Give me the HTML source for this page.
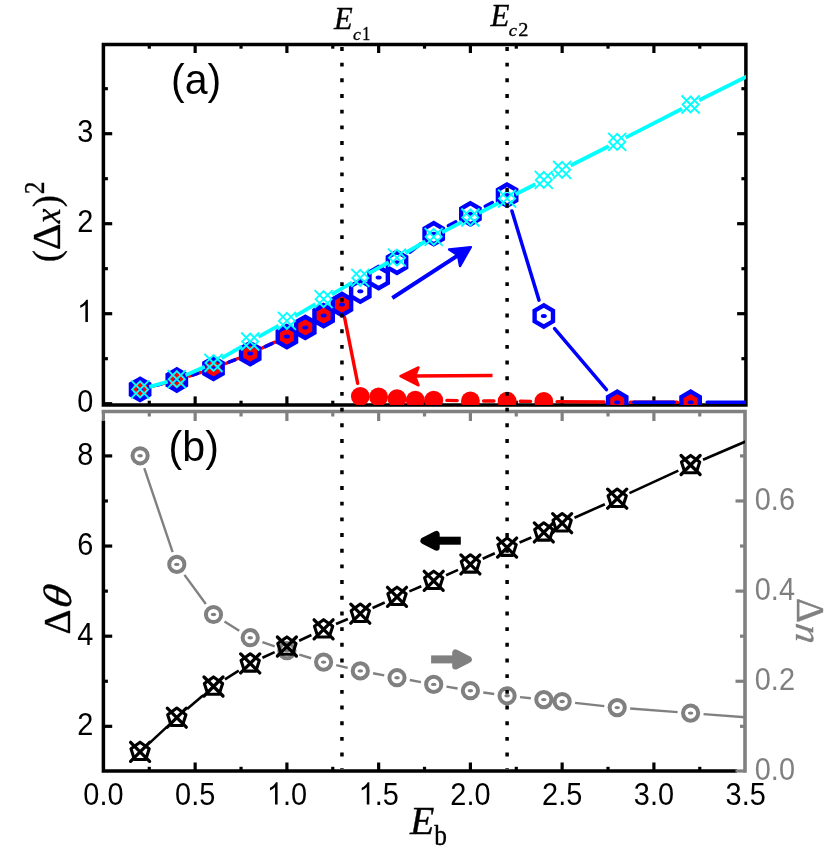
<!DOCTYPE html><html><head><meta charset="utf-8"><style>html,body{margin:0;padding:0;background:#fff}svg{display:block;will-change:transform}</style></head><body><svg width="830" height="855" viewBox="0 0 830 855">
<defs><clipPath id="ca"><rect x="103.4" y="44.5" width="642.5" height="360.4"/></clipPath><clipPath id="cb"><rect x="103.4" y="411.5" width="641.6" height="359.5"/></clipPath></defs>
<rect width="830" height="855" fill="#fff"/>
<g stroke="#000" stroke-width="3.5" fill="none">
<path d="M103.4,406.65L103.4,44.5L745.9,44.5L745.9,404.9L101.65,404.9"/>
</g>
<g stroke="#000" stroke-width="3.2">
<line x1="149.28" y1="44.5" x2="149.28" y2="48.7"/>
<line x1="149.28" y1="404.9" x2="149.28" y2="400.7"/>
<line x1="195.15" y1="44.5" x2="195.15" y2="53.0"/>
<line x1="195.15" y1="404.9" x2="195.15" y2="396.4"/>
<line x1="241.03" y1="44.5" x2="241.03" y2="48.7"/>
<line x1="241.03" y1="404.9" x2="241.03" y2="400.7"/>
<line x1="286.90" y1="44.5" x2="286.90" y2="53.0"/>
<line x1="286.90" y1="404.9" x2="286.90" y2="396.4"/>
<line x1="332.77" y1="44.5" x2="332.77" y2="48.7"/>
<line x1="332.77" y1="404.9" x2="332.77" y2="400.7"/>
<line x1="378.65" y1="44.5" x2="378.65" y2="53.0"/>
<line x1="378.65" y1="404.9" x2="378.65" y2="396.4"/>
<line x1="424.52" y1="44.5" x2="424.52" y2="48.7"/>
<line x1="424.52" y1="404.9" x2="424.52" y2="400.7"/>
<line x1="470.40" y1="44.5" x2="470.40" y2="53.0"/>
<line x1="470.40" y1="404.9" x2="470.40" y2="396.4"/>
<line x1="516.27" y1="44.5" x2="516.27" y2="48.7"/>
<line x1="516.27" y1="404.9" x2="516.27" y2="400.7"/>
<line x1="562.15" y1="44.5" x2="562.15" y2="53.0"/>
<line x1="562.15" y1="404.9" x2="562.15" y2="396.4"/>
<line x1="608.02" y1="44.5" x2="608.02" y2="48.7"/>
<line x1="608.02" y1="404.9" x2="608.02" y2="400.7"/>
<line x1="653.90" y1="44.5" x2="653.90" y2="53.0"/>
<line x1="653.90" y1="404.9" x2="653.90" y2="396.4"/>
<line x1="699.77" y1="44.5" x2="699.77" y2="48.7"/>
<line x1="699.77" y1="404.9" x2="699.77" y2="400.7"/>
<line x1="103.4" y1="403.70" x2="112.2" y2="403.70"/>
<line x1="745.9" y1="403.70" x2="737.1" y2="403.70"/>
<line x1="103.4" y1="358.70" x2="107.9" y2="358.70"/>
<line x1="745.9" y1="358.70" x2="741.4" y2="358.70"/>
<line x1="103.4" y1="313.70" x2="112.2" y2="313.70"/>
<line x1="745.9" y1="313.70" x2="737.1" y2="313.70"/>
<line x1="103.4" y1="268.70" x2="107.9" y2="268.70"/>
<line x1="745.9" y1="268.70" x2="741.4" y2="268.70"/>
<line x1="103.4" y1="223.70" x2="112.2" y2="223.70"/>
<line x1="745.9" y1="223.70" x2="737.1" y2="223.70"/>
<line x1="103.4" y1="178.70" x2="107.9" y2="178.70"/>
<line x1="745.9" y1="178.70" x2="741.4" y2="178.70"/>
<line x1="103.4" y1="133.70" x2="112.2" y2="133.70"/>
<line x1="745.9" y1="133.70" x2="737.1" y2="133.70"/>
<line x1="103.4" y1="88.70" x2="107.9" y2="88.70"/>
<line x1="745.9" y1="88.70" x2="741.4" y2="88.70"/>
</g>
<g stroke="#000" stroke-width="3.5" fill="none"><path d="M103.4,420.5L103.4,771.0L737.0,771.0" stroke-linejoin="miter"/></g>
<g stroke="#000" stroke-width="3.2">
<line x1="149.28" y1="771.0" x2="149.28" y2="766.8"/>
<line x1="195.15" y1="771.0" x2="195.15" y2="762.5"/>
<line x1="241.03" y1="771.0" x2="241.03" y2="766.8"/>
<line x1="286.90" y1="771.0" x2="286.90" y2="762.5"/>
<line x1="332.77" y1="771.0" x2="332.77" y2="766.8"/>
<line x1="378.65" y1="771.0" x2="378.65" y2="762.5"/>
<line x1="424.52" y1="771.0" x2="424.52" y2="766.8"/>
<line x1="470.40" y1="771.0" x2="470.40" y2="762.5"/>
<line x1="516.27" y1="771.0" x2="516.27" y2="766.8"/>
<line x1="562.15" y1="771.0" x2="562.15" y2="762.5"/>
<line x1="608.02" y1="771.0" x2="608.02" y2="766.8"/>
<line x1="653.90" y1="771.0" x2="653.90" y2="762.5"/>
<line x1="699.77" y1="771.0" x2="699.77" y2="766.8"/>
<line x1="103.4" y1="726.33" x2="112.2" y2="726.33"/>
<line x1="103.4" y1="681.26" x2="107.9" y2="681.26"/>
<line x1="103.4" y1="636.19" x2="112.2" y2="636.19"/>
<line x1="103.4" y1="591.12" x2="107.9" y2="591.12"/>
<line x1="103.4" y1="546.05" x2="112.2" y2="546.05"/>
<line x1="103.4" y1="500.98" x2="107.9" y2="500.98"/>
<line x1="103.4" y1="455.91" x2="112.2" y2="455.91"/>
</g>
<g stroke="#808080" stroke-width="3.6" fill="none"><path d="M101.60000000000001,411.5L745.0,411.5L745.0,772.8"/></g>
<g stroke="#808080" stroke-width="3.2">
<line x1="103.40" y1="411.5" x2="103.40" y2="421.0"/>
<line x1="149.28" y1="411.5" x2="149.28" y2="416.5"/>
<line x1="195.15" y1="411.5" x2="195.15" y2="421.0"/>
<line x1="241.03" y1="411.5" x2="241.03" y2="416.5"/>
<line x1="286.90" y1="411.5" x2="286.90" y2="421.0"/>
<line x1="332.77" y1="411.5" x2="332.77" y2="416.5"/>
<line x1="378.65" y1="411.5" x2="378.65" y2="421.0"/>
<line x1="424.52" y1="411.5" x2="424.52" y2="416.5"/>
<line x1="470.40" y1="411.5" x2="470.40" y2="421.0"/>
<line x1="516.27" y1="411.5" x2="516.27" y2="416.5"/>
<line x1="562.15" y1="411.5" x2="562.15" y2="421.0"/>
<line x1="608.02" y1="411.5" x2="608.02" y2="416.5"/>
<line x1="653.90" y1="411.5" x2="653.90" y2="421.0"/>
<line x1="699.77" y1="411.5" x2="699.77" y2="416.5"/>
<line x1="745.0" y1="771.00" x2="735.5" y2="771.00"/>
<line x1="745.0" y1="726.33" x2="740.0" y2="726.33"/>
<line x1="745.0" y1="681.26" x2="735.5" y2="681.26"/>
<line x1="745.0" y1="636.19" x2="740.0" y2="636.19"/>
<line x1="745.0" y1="591.12" x2="735.5" y2="591.12"/>
<line x1="745.0" y1="546.05" x2="740.0" y2="546.05"/>
<line x1="745.0" y1="500.98" x2="735.5" y2="500.98"/>
<line x1="745.0" y1="455.91" x2="740.0" y2="455.91"/>
</g>
<g clip-path="url(#ca)">
<g stroke="#ff0000" stroke-width="3.4" fill="none" stroke-linecap="round"><line x1="152.89" y1="386.12" x2="164.01" y2="383.28"/><line x1="189.39" y1="376.02" x2="200.91" y2="372.38"/><line x1="225.74" y1="363.46" x2="237.96" y2="358.54"/><line x1="262.18" y1="348.05" x2="274.92" y2="342.15"/><line x1="344.54" y1="317.44" x2="357.71" y2="383.36"/><line x1="446.90" y1="400.42" x2="457.20" y2="400.58"/><line x1="483.60" y1="400.94" x2="493.90" y2="401.06"/><line x1="520.30" y1="401.31" x2="530.60" y2="401.39"/><line x1="557.00" y1="401.63" x2="604.00" y2="402.07"/><line x1="630.40" y1="402.20" x2="677.40" y2="402.20"/></g>
<circle cx="140.10" cy="389.40" r="9.4" fill="#ff0000"/>
<circle cx="176.80" cy="380.00" r="9.4" fill="#ff0000"/>
<circle cx="213.50" cy="368.40" r="9.4" fill="#ff0000"/>
<circle cx="250.20" cy="353.60" r="9.4" fill="#ff0000"/>
<circle cx="286.90" cy="336.60" r="9.4" fill="#ff0000"/>
<circle cx="305.25" cy="327.40" r="9.4" fill="#ff0000"/>
<circle cx="323.60" cy="315.60" r="9.4" fill="#ff0000"/>
<circle cx="341.95" cy="304.50" r="9.4" fill="#ff0000"/>
<circle cx="360.30" cy="396.30" r="9.4" fill="#ff0000"/>
<circle cx="378.65" cy="396.90" r="9.4" fill="#ff0000"/>
<circle cx="397.00" cy="398.70" r="9.4" fill="#ff0000"/>
<circle cx="415.35" cy="400.10" r="9.4" fill="#ff0000"/>
<circle cx="433.70" cy="400.20" r="9.4" fill="#ff0000"/>
<circle cx="470.40" cy="400.80" r="9.4" fill="#ff0000"/>
<circle cx="507.10" cy="401.20" r="9.4" fill="#ff0000"/>
<circle cx="543.80" cy="401.50" r="9.4" fill="#ff0000"/>
<circle cx="617.20" cy="402.20" r="9.4" fill="#ff0000"/>
<circle cx="690.60" cy="402.20" r="9.4" fill="#ff0000"/>
<g stroke="#0000ff" stroke-width="3.5" fill="none" stroke-linecap="round"><line x1="156.18" y1="385.28" x2="160.72" y2="384.12"/><line x1="192.63" y1="375.00" x2="197.67" y2="373.40"/><line x1="228.90" y1="362.19" x2="234.80" y2="359.81"/><line x1="265.26" y1="346.62" x2="271.84" y2="343.58"/><line x1="410.09" y1="252.10" x2="420.61" y2="243.90"/><line x1="448.29" y1="225.79" x2="455.81" y2="221.71"/><line x1="485.19" y1="206.26" x2="492.31" y2="202.64"/><line x1="511.92" y1="210.98" x2="538.98" y2="300.12"/><line x1="554.56" y1="328.64" x2="606.44" y2="389.56"/><line x1="633.80" y1="402.20" x2="674.00" y2="402.20"/><line x1="707.20" y1="402.25" x2="754.82" y2="402.40"/></g>
<polygon points="140.10,378.80 130.92,384.10 130.92,394.70 140.10,400.00 149.28,394.70 149.28,384.10" fill="none" stroke="#0000ff" stroke-width="4.4" stroke-linejoin="miter"/>
<ellipse cx="140.10" cy="389.40" rx="3" ry="2" fill="#0000ff"/>
<polygon points="176.80,369.40 167.62,374.70 167.62,385.30 176.80,390.60 185.98,385.30 185.98,374.70" fill="none" stroke="#0000ff" stroke-width="4.4" stroke-linejoin="miter"/>
<ellipse cx="176.80" cy="380.00" rx="3" ry="2" fill="#0000ff"/>
<polygon points="213.50,357.80 204.32,363.10 204.32,373.70 213.50,379.00 222.68,373.70 222.68,363.10" fill="none" stroke="#0000ff" stroke-width="4.4" stroke-linejoin="miter"/>
<ellipse cx="213.50" cy="368.40" rx="3" ry="2" fill="#0000ff"/>
<polygon points="250.20,343.00 241.02,348.30 241.02,358.90 250.20,364.20 259.38,358.90 259.38,348.30" fill="none" stroke="#0000ff" stroke-width="4.4" stroke-linejoin="miter"/>
<ellipse cx="250.20" cy="353.60" rx="3" ry="2" fill="#0000ff"/>
<polygon points="286.90,326.00 277.72,331.30 277.72,341.90 286.90,347.20 296.08,341.90 296.08,331.30" fill="none" stroke="#0000ff" stroke-width="4.4" stroke-linejoin="miter"/>
<ellipse cx="286.90" cy="336.60" rx="3" ry="2" fill="#0000ff"/>
<polygon points="305.25,316.80 296.07,322.10 296.07,332.70 305.25,338.00 314.43,332.70 314.43,322.10" fill="none" stroke="#0000ff" stroke-width="4.4" stroke-linejoin="miter"/>
<ellipse cx="305.25" cy="327.40" rx="3" ry="2" fill="#0000ff"/>
<polygon points="323.60,305.00 314.42,310.30 314.42,320.90 323.60,326.20 332.78,320.90 332.78,310.30" fill="none" stroke="#0000ff" stroke-width="4.4" stroke-linejoin="miter"/>
<ellipse cx="323.60" cy="315.60" rx="3" ry="2" fill="#0000ff"/>
<polygon points="341.95,293.90 332.77,299.20 332.77,309.80 341.95,315.10 351.13,309.80 351.13,299.20" fill="none" stroke="#0000ff" stroke-width="4.4" stroke-linejoin="miter"/>
<ellipse cx="341.95" cy="304.50" rx="3" ry="2" fill="#0000ff"/>
<polygon points="360.30,280.60 351.12,285.90 351.12,296.50 360.30,301.80 369.48,296.50 369.48,285.90" fill="none" stroke="#0000ff" stroke-width="4.4" stroke-linejoin="miter"/>
<ellipse cx="360.30" cy="291.20" rx="3" ry="2" fill="#0000ff"/>
<polygon points="378.65,267.00 369.47,272.30 369.47,282.90 378.65,288.20 387.83,282.90 387.83,272.30" fill="none" stroke="#0000ff" stroke-width="4.4" stroke-linejoin="miter"/>
<ellipse cx="378.65" cy="277.60" rx="3" ry="2" fill="#0000ff"/>
<polygon points="397.00,251.70 387.82,257.00 387.82,267.60 397.00,272.90 406.18,267.60 406.18,257.00" fill="none" stroke="#0000ff" stroke-width="4.4" stroke-linejoin="miter"/>
<ellipse cx="397.00" cy="262.30" rx="3" ry="2" fill="#0000ff"/>
<polygon points="433.70,223.10 424.52,228.40 424.52,239.00 433.70,244.30 442.88,239.00 442.88,228.40" fill="none" stroke="#0000ff" stroke-width="4.4" stroke-linejoin="miter"/>
<ellipse cx="433.70" cy="233.70" rx="3" ry="2" fill="#0000ff"/>
<polygon points="470.40,203.20 461.22,208.50 461.22,219.10 470.40,224.40 479.58,219.10 479.58,208.50" fill="none" stroke="#0000ff" stroke-width="4.4" stroke-linejoin="miter"/>
<ellipse cx="470.40" cy="213.80" rx="3" ry="2" fill="#0000ff"/>
<polygon points="507.10,184.50 497.92,189.80 497.92,200.40 507.10,205.70 516.28,200.40 516.28,189.80" fill="none" stroke="#0000ff" stroke-width="4.4" stroke-linejoin="miter"/>
<ellipse cx="507.10" cy="195.10" rx="3" ry="2" fill="#0000ff"/>
<polygon points="543.80,305.40 534.62,310.70 534.62,321.30 543.80,326.60 552.98,321.30 552.98,310.70" fill="none" stroke="#0000ff" stroke-width="4.4" stroke-linejoin="miter"/>
<ellipse cx="543.80" cy="316.00" rx="3" ry="2" fill="#0000ff"/>
<polygon points="617.20,391.60 608.02,396.90 608.02,407.50 617.20,412.80 626.38,407.50 626.38,396.90" fill="none" stroke="#0000ff" stroke-width="4.4" stroke-linejoin="miter"/>
<ellipse cx="617.20" cy="402.20" rx="3" ry="2" fill="#0000ff"/>
<polygon points="690.60,391.60 681.42,396.90 681.42,407.50 690.60,412.80 699.78,407.50 699.78,396.90" fill="none" stroke="#0000ff" stroke-width="4.4" stroke-linejoin="miter"/>
<ellipse cx="690.60" cy="402.20" rx="3" ry="2" fill="#0000ff"/>
<g stroke="#00ffff" stroke-width="3.8" fill="none" stroke-linecap="butt"><line x1="149.25" y1="386.86" x2="167.65" y2="381.74"/><line x1="185.49" y1="375.36" x2="204.81" y2="366.84"/><line x1="221.70" y1="358.20" x2="242.00" y2="346.30"/><line x1="258.48" y1="336.85" x2="278.62" y2="325.55"/><line x1="295.08" y1="316.06" x2="315.42" y2="304.04"/><line x1="331.82" y1="294.43" x2="352.08" y2="282.67"/><line x1="368.62" y1="273.32" x2="388.68" y2="262.28"/><line x1="405.26" y1="253.00" x2="425.44" y2="241.50"/><line x1="442.11" y1="232.38" x2="461.99" y2="221.92"/><line x1="478.85" y1="213.15" x2="498.65" y2="202.95"/><line x1="515.56" y1="194.29" x2="535.34" y2="184.21"/><line x1="552.12" y1="175.32" x2="553.83" y2="174.38"/><line x1="570.62" y1="165.51" x2="608.73" y2="146.19"/><line x1="625.66" y1="137.59" x2="682.14" y2="108.81"/><line x1="699.10" y1="100.26" x2="782.35" y2="58.80"/></g>
<path d="M131.10,380.40L149.10,398.40M131.10,398.40L149.10,380.40M140.10,381.40L148.10,389.40L140.10,397.40L132.10,389.40Z" fill="none" stroke="#00ffff" stroke-width="1.9"/>
<path d="M167.80,370.20L185.80,388.20M167.80,388.20L185.80,370.20M176.80,371.20L184.80,379.20L176.80,387.20L168.80,379.20Z" fill="none" stroke="#00ffff" stroke-width="1.9"/>
<path d="M204.50,354.00L222.50,372.00M204.50,372.00L222.50,354.00M213.50,355.00L221.50,363.00L213.50,371.00L205.50,363.00Z" fill="none" stroke="#00ffff" stroke-width="1.9"/>
<path d="M241.20,332.50L259.20,350.50M241.20,350.50L259.20,332.50M250.20,333.50L258.20,341.50L250.20,349.50L242.20,341.50Z" fill="none" stroke="#00ffff" stroke-width="1.9"/>
<path d="M277.90,311.90L295.90,329.90M277.90,329.90L295.90,311.90M286.90,312.90L294.90,320.90L286.90,328.90L278.90,320.90Z" fill="none" stroke="#00ffff" stroke-width="1.9"/>
<path d="M314.60,290.20L332.60,308.20M314.60,308.20L332.60,290.20M323.60,291.20L331.60,299.20L323.60,307.20L315.60,299.20Z" fill="none" stroke="#00ffff" stroke-width="1.9"/>
<path d="M351.30,268.90L369.30,286.90M351.30,286.90L369.30,268.90M360.30,269.90L368.30,277.90L360.30,285.90L352.30,277.90Z" fill="none" stroke="#00ffff" stroke-width="1.9"/>
<path d="M388.00,248.70L406.00,266.70M388.00,266.70L406.00,248.70M397.00,249.70L405.00,257.70L397.00,265.70L389.00,257.70Z" fill="none" stroke="#00ffff" stroke-width="1.9"/>
<path d="M424.70,227.80L442.70,245.80M424.70,245.80L442.70,227.80M433.70,228.80L441.70,236.80L433.70,244.80L425.70,236.80Z" fill="none" stroke="#00ffff" stroke-width="1.9"/>
<path d="M461.40,208.50L479.40,226.50M461.40,226.50L479.40,208.50M470.40,209.50L478.40,217.50L470.40,225.50L462.40,217.50Z" fill="none" stroke="#00ffff" stroke-width="1.9"/>
<path d="M498.10,189.60L516.10,207.60M498.10,207.60L516.10,189.60M507.10,190.60L515.10,198.60L507.10,206.60L499.10,198.60Z" fill="none" stroke="#00ffff" stroke-width="1.9"/>
<path d="M534.80,170.90L552.80,188.90M534.80,188.90L552.80,170.90M543.80,171.90L551.80,179.90L543.80,187.90L535.80,179.90Z" fill="none" stroke="#00ffff" stroke-width="1.9"/>
<path d="M553.15,160.80L571.15,178.80M553.15,178.80L571.15,160.80M562.15,161.80L570.15,169.80L562.15,177.80L554.15,169.80Z" fill="none" stroke="#00ffff" stroke-width="1.9"/>
<path d="M608.20,132.90L626.20,150.90M608.20,150.90L626.20,132.90M617.20,133.90L625.20,141.90L617.20,149.90L609.20,141.90Z" fill="none" stroke="#00ffff" stroke-width="1.9"/>
<path d="M681.60,95.50L699.60,113.50M681.60,113.50L699.60,95.50M690.60,96.50L698.60,104.50L690.60,112.50L682.60,104.50Z" fill="none" stroke="#00ffff" stroke-width="1.9"/>
</g>
<line x1="392.3" y1="298" x2="460" y2="254" stroke="#0000ff" stroke-width="3.9"/>
<path d="M470.8,247.1L449.1,249.5L458,255.3L460,266.1Z" fill="#0000ff" stroke="#0000ff" stroke-width="2.4" stroke-linejoin="round"/>
<line x1="492.5" y1="375.6" x2="412" y2="376.1" stroke="#ff0000" stroke-width="3.5"/>
<path d="M400.5,376.1L418.5,367.5L415,376.1L418.5,385.3Z" fill="#ff0000" stroke="#ff0000" stroke-width="2.5" stroke-linejoin="round"/>
<g clip-path="url(#cb)">
<g stroke="#808080" stroke-width="2.4" fill="none" stroke-linecap="butt"><line x1="144.26" y1="468.12" x2="172.64" y2="552.08"/><line x1="184.48" y1="574.89" x2="205.82" y2="604.01"/><line x1="224.49" y1="621.45" x2="239.21" y2="630.75"/><line x1="262.45" y1="642.04" x2="274.65" y2="646.36"/><line x1="299.31" y1="654.56" x2="311.19" y2="658.24"/><line x1="336.24" y1="665.13" x2="347.66" y2="667.87"/><line x1="373.08" y1="673.27" x2="384.22" y2="675.33"/><line x1="409.79" y1="680.03" x2="420.91" y2="682.07"/><line x1="446.51" y1="686.60" x2="457.59" y2="688.50"/><line x1="483.28" y1="692.49" x2="494.22" y2="694.01"/><line x1="520.03" y1="697.14" x2="530.87" y2="698.26"/><line x1="575.07" y1="702.93" x2="604.28" y2="706.17"/><line x1="630.16" y1="708.57" x2="677.64" y2="712.13"/><line x1="703.56" y1="714.09" x2="782.35" y2="720.10"/></g>
<circle cx="140.10" cy="455.80" r="7.6" fill="none" stroke="#808080" stroke-width="4"/>
<ellipse cx="140.10" cy="455.80" rx="2.8" ry="1.7" fill="#808080"/>
<circle cx="176.80" cy="564.40" r="7.6" fill="none" stroke="#808080" stroke-width="4"/>
<ellipse cx="176.80" cy="564.40" rx="2.8" ry="1.7" fill="#808080"/>
<circle cx="213.50" cy="614.50" r="7.6" fill="none" stroke="#808080" stroke-width="4"/>
<ellipse cx="213.50" cy="614.50" rx="2.8" ry="1.7" fill="#808080"/>
<circle cx="250.20" cy="637.70" r="7.6" fill="none" stroke="#808080" stroke-width="4"/>
<ellipse cx="250.20" cy="637.70" rx="2.8" ry="1.7" fill="#808080"/>
<circle cx="286.90" cy="650.70" r="7.6" fill="none" stroke="#808080" stroke-width="4"/>
<ellipse cx="286.90" cy="650.70" rx="2.8" ry="1.7" fill="#808080"/>
<circle cx="323.60" cy="662.10" r="7.6" fill="none" stroke="#808080" stroke-width="4"/>
<ellipse cx="323.60" cy="662.10" rx="2.8" ry="1.7" fill="#808080"/>
<circle cx="360.30" cy="670.90" r="7.6" fill="none" stroke="#808080" stroke-width="4"/>
<ellipse cx="360.30" cy="670.90" rx="2.8" ry="1.7" fill="#808080"/>
<circle cx="397.00" cy="677.70" r="7.6" fill="none" stroke="#808080" stroke-width="4"/>
<ellipse cx="397.00" cy="677.70" rx="2.8" ry="1.7" fill="#808080"/>
<circle cx="433.70" cy="684.40" r="7.6" fill="none" stroke="#808080" stroke-width="4"/>
<ellipse cx="433.70" cy="684.40" rx="2.8" ry="1.7" fill="#808080"/>
<circle cx="470.40" cy="690.70" r="7.6" fill="none" stroke="#808080" stroke-width="4"/>
<ellipse cx="470.40" cy="690.70" rx="2.8" ry="1.7" fill="#808080"/>
<circle cx="507.10" cy="695.80" r="7.6" fill="none" stroke="#808080" stroke-width="4"/>
<ellipse cx="507.10" cy="695.80" rx="2.8" ry="1.7" fill="#808080"/>
<circle cx="543.80" cy="699.60" r="7.6" fill="none" stroke="#808080" stroke-width="4"/>
<ellipse cx="543.80" cy="699.60" rx="2.8" ry="1.7" fill="#808080"/>
<circle cx="562.15" cy="701.50" r="7.6" fill="none" stroke="#808080" stroke-width="4"/>
<ellipse cx="562.15" cy="701.50" rx="2.8" ry="1.7" fill="#808080"/>
<circle cx="617.20" cy="707.60" r="7.6" fill="none" stroke="#808080" stroke-width="4"/>
<ellipse cx="617.20" cy="707.60" rx="2.8" ry="1.7" fill="#808080"/>
<circle cx="690.60" cy="713.10" r="7.6" fill="none" stroke="#808080" stroke-width="4"/>
<ellipse cx="690.60" cy="713.10" rx="2.8" ry="1.7" fill="#808080"/>
<g stroke="#000" stroke-width="2.6" fill="none" stroke-linecap="butt"><line x1="149.99" y1="742.61" x2="166.91" y2="726.89"/><line x1="187.09" y1="708.96" x2="203.21" y2="695.24"/><line x1="224.93" y1="679.31" x2="238.77" y2="670.59"/><line x1="262.46" y1="657.75" x2="274.64" y2="652.15"/><line x1="299.12" y1="640.77" x2="311.38" y2="635.03"/><line x1="336.02" y1="624.02" x2="347.88" y2="618.98"/><line x1="372.56" y1="608.05" x2="384.74" y2="602.45"/><line x1="409.38" y1="591.40" x2="421.32" y2="586.20"/><line x1="446.03" y1="575.29" x2="458.07" y2="569.91"/><line x1="482.68" y1="558.78" x2="494.82" y2="553.22"/><line x1="519.57" y1="542.43" x2="531.33" y2="537.57"/><line x1="574.48" y1="517.71" x2="604.87" y2="504.19"/><line x1="629.47" y1="493.07" x2="678.33" y2="470.63"/><line x1="703.01" y1="459.70" x2="782.35" y2="425.80"/></g>
<polygon points="140.10,742.20 130.97,748.83 134.46,759.57 145.74,759.57 149.23,748.83" fill="none" stroke="#000" stroke-width="3.1" stroke-linejoin="round"/>
<path d="M130.60,742.30L149.60,761.30M130.60,761.30L149.60,742.30" fill="none" stroke="#000" stroke-width="3.3" stroke-linecap="round"/>
<polygon points="176.80,708.10 167.67,714.73 171.16,725.47 182.44,725.47 185.93,714.73" fill="none" stroke="#000" stroke-width="3.1" stroke-linejoin="round"/>
<path d="M167.30,708.20L186.30,727.20M167.30,727.20L186.30,708.20" fill="none" stroke="#000" stroke-width="3.3" stroke-linecap="round"/>
<polygon points="213.50,676.90 204.37,683.53 207.86,694.27 219.14,694.27 222.63,683.53" fill="none" stroke="#000" stroke-width="3.1" stroke-linejoin="round"/>
<path d="M204.00,677.00L223.00,696.00M204.00,696.00L223.00,677.00" fill="none" stroke="#000" stroke-width="3.3" stroke-linecap="round"/>
<polygon points="250.20,653.80 241.07,660.43 244.56,671.17 255.84,671.17 259.33,660.43" fill="none" stroke="#000" stroke-width="3.1" stroke-linejoin="round"/>
<path d="M240.70,653.90L259.70,672.90M240.70,672.90L259.70,653.90" fill="none" stroke="#000" stroke-width="3.3" stroke-linecap="round"/>
<polygon points="286.90,636.90 277.77,643.53 281.26,654.27 292.54,654.27 296.03,643.53" fill="none" stroke="#000" stroke-width="3.1" stroke-linejoin="round"/>
<path d="M277.40,637.00L296.40,656.00M277.40,656.00L296.40,637.00" fill="none" stroke="#000" stroke-width="3.3" stroke-linecap="round"/>
<polygon points="323.60,619.70 314.47,626.33 317.96,637.07 329.24,637.07 332.73,626.33" fill="none" stroke="#000" stroke-width="3.1" stroke-linejoin="round"/>
<path d="M314.10,619.80L333.10,638.80M314.10,638.80L333.10,619.80" fill="none" stroke="#000" stroke-width="3.3" stroke-linecap="round"/>
<polygon points="360.30,604.10 351.17,610.73 354.66,621.47 365.94,621.47 369.43,610.73" fill="none" stroke="#000" stroke-width="3.1" stroke-linejoin="round"/>
<path d="M350.80,604.20L369.80,623.20M350.80,623.20L369.80,604.20" fill="none" stroke="#000" stroke-width="3.3" stroke-linecap="round"/>
<polygon points="397.00,587.20 387.87,593.83 391.36,604.57 402.64,604.57 406.13,593.83" fill="none" stroke="#000" stroke-width="3.1" stroke-linejoin="round"/>
<path d="M387.50,587.30L406.50,606.30M387.50,606.30L406.50,587.30" fill="none" stroke="#000" stroke-width="3.3" stroke-linecap="round"/>
<polygon points="433.70,571.20 424.57,577.83 428.06,588.57 439.34,588.57 442.83,577.83" fill="none" stroke="#000" stroke-width="3.1" stroke-linejoin="round"/>
<path d="M424.20,571.30L443.20,590.30M424.20,590.30L443.20,571.30" fill="none" stroke="#000" stroke-width="3.3" stroke-linecap="round"/>
<polygon points="470.40,554.80 461.27,561.43 464.76,572.17 476.04,572.17 479.53,561.43" fill="none" stroke="#000" stroke-width="3.1" stroke-linejoin="round"/>
<path d="M460.90,554.90L479.90,573.90M460.90,573.90L479.90,554.90" fill="none" stroke="#000" stroke-width="3.3" stroke-linecap="round"/>
<polygon points="507.10,538.00 497.97,544.63 501.46,555.37 512.74,555.37 516.23,544.63" fill="none" stroke="#000" stroke-width="3.1" stroke-linejoin="round"/>
<path d="M497.60,538.10L516.60,557.10M497.60,557.10L516.60,538.10" fill="none" stroke="#000" stroke-width="3.3" stroke-linecap="round"/>
<polygon points="543.80,522.80 534.67,529.43 538.16,540.17 549.44,540.17 552.93,529.43" fill="none" stroke="#000" stroke-width="3.1" stroke-linejoin="round"/>
<path d="M534.30,522.90L553.30,541.90M534.30,541.90L553.30,522.90" fill="none" stroke="#000" stroke-width="3.3" stroke-linecap="round"/>
<polygon points="562.15,513.60 553.02,520.23 556.51,530.97 567.79,530.97 571.28,520.23" fill="none" stroke="#000" stroke-width="3.1" stroke-linejoin="round"/>
<path d="M552.65,513.70L571.65,532.70M552.65,532.70L571.65,513.70" fill="none" stroke="#000" stroke-width="3.3" stroke-linecap="round"/>
<polygon points="617.20,489.10 608.07,495.73 611.56,506.47 622.84,506.47 626.33,495.73" fill="none" stroke="#000" stroke-width="3.1" stroke-linejoin="round"/>
<path d="M607.70,489.20L626.70,508.20M607.70,508.20L626.70,489.20" fill="none" stroke="#000" stroke-width="3.3" stroke-linecap="round"/>
<polygon points="690.60,455.40 681.47,462.03 684.96,472.77 696.24,472.77 699.73,462.03" fill="none" stroke="#000" stroke-width="3.1" stroke-linejoin="round"/>
<path d="M681.10,455.50L700.10,474.50M681.10,474.50L700.10,455.50" fill="none" stroke="#000" stroke-width="3.3" stroke-linecap="round"/>
</g>
<rect x="439" y="536.7" width="21.8" height="8" fill="#000"/>
<path d="M423.7,540.8L436.4,534.2L436.4,547.4Z" fill="#000" stroke="#000" stroke-width="6.6" stroke-linejoin="round"/>
<rect x="431.1" y="655.4" width="22" height="8" fill="#808080"/>
<path d="M468.6,659.5L455.5,652.8L455.5,666.2Z" fill="#808080" stroke="#808080" stroke-width="6.6" stroke-linejoin="round"/>
<line x1="341.95" y1="47" x2="341.95" y2="769" stroke="#000" stroke-width="3.5" stroke-dasharray="3.9 11.78"/>
<line x1="507.10" y1="47" x2="507.10" y2="769" stroke="#000" stroke-width="3.5" stroke-dasharray="3.9 11.78"/>
<g font-family="Liberation Sans, sans-serif" font-size="28.9">
<text transform="translate(93.20,412.00) scale(1,1.075)" text-anchor="end" fill="#000">0</text>
<path d="M763,0H583V-1147Q518,-1085 412.5,-1023Q307,-961 223,-930V-1104Q374,-1175 487,-1276Q600,-1377 647,-1472H763Z" fill="#000" transform="translate(77.13,322.00) scale(0.01411,0.01517)"/>
<text transform="translate(93.20,232.00) scale(1,1.075)" text-anchor="end" fill="#000">2</text>
<text transform="translate(93.20,142.00) scale(1,1.075)" text-anchor="end" fill="#000">3</text>
<text transform="translate(93.20,734.93) scale(1,1.075)" text-anchor="end" fill="#000">2</text>
<text transform="translate(93.20,644.79) scale(1,1.075)" text-anchor="end" fill="#000">4</text>
<text transform="translate(93.20,554.65) scale(1,1.075)" text-anchor="end" fill="#000">6</text>
<text transform="translate(93.20,464.51) scale(1,1.075)" text-anchor="end" fill="#000">8</text>
<text transform="translate(103.40,804.50) scale(1,1.075)" text-anchor="middle" fill="#000">0.0</text>
<text transform="translate(195.15,804.50) scale(1,1.075)" text-anchor="middle" fill="#000">0.5</text>
<path d="M763,0H583V-1147Q518,-1085 412.5,-1023Q307,-961 223,-930V-1104Q374,-1175 487,-1276Q600,-1377 647,-1472H763Z" fill="#000" transform="translate(266.81,804.50) scale(0.01411,0.01517)"/><text transform="translate(282.88,804.50) scale(1,1.075)" text-anchor="start" fill="#000">.0</text>
<path d="M763,0H583V-1147Q518,-1085 412.5,-1023Q307,-961 223,-930V-1104Q374,-1175 487,-1276Q600,-1377 647,-1472H763Z" fill="#000" transform="translate(358.56,804.50) scale(0.01411,0.01517)"/><text transform="translate(374.63,804.50) scale(1,1.075)" text-anchor="start" fill="#000">.5</text>
<text transform="translate(470.40,804.50) scale(1,1.075)" text-anchor="middle" fill="#000">2.0</text>
<text transform="translate(562.15,804.50) scale(1,1.075)" text-anchor="middle" fill="#000">2.5</text>
<text transform="translate(653.90,804.50) scale(1,1.075)" text-anchor="middle" fill="#000">3.0</text>
<text transform="translate(745.65,804.50) scale(1,1.075)" text-anchor="middle" fill="#000">3.5</text>
<text transform="translate(754.80,780.20) scale(1,1.075)" text-anchor="start" fill="#808080">0.0</text>
<text transform="translate(754.80,690.06) scale(1,1.075)" text-anchor="start" fill="#808080">0.2</text>
<text transform="translate(754.80,599.92) scale(1,1.075)" text-anchor="start" fill="#808080">0.4</text>
<text transform="translate(754.80,509.78) scale(1,1.075)" text-anchor="start" fill="#808080">0.6</text>
</g>
<text font-family="Liberation Sans, sans-serif" font-size="41.1" transform="translate(171,93.6) scale(1,1.03)">(a)</text>
<text font-family="Liberation Sans, sans-serif" font-size="41.1" transform="translate(168.6,461.3) scale(1,1.03)">(b)</text>
<text font-family="Liberation Serif, serif" font-size="32" font-style="italic" fill="#000" stroke="#000" stroke-width="0.35" transform="translate(333.98,28.7) scale(0.955,0.976)">E</text>
<text font-family="Liberation Serif, serif" font-size="20" font-style="italic" fill="#000" stroke="#000" stroke-width="0.35" transform="translate(353.12,39.64) scale(0.901,0.82)">c</text>
<text font-family="Liberation Serif, serif" font-size="20" fill="#000" stroke="#000" stroke-width="0.35" transform="translate(362.35,39.9) scale(0.8,0.99)">1</text>
<text font-family="Liberation Serif, serif" font-size="32" font-style="italic" fill="#000" stroke="#000" stroke-width="0.35" transform="translate(490.49,25.5) scale(0.97,0.981)">E</text>
<text font-family="Liberation Serif, serif" font-size="20" font-style="italic" fill="#000" stroke="#000" stroke-width="0.35" transform="translate(508.81,36.04) scale(0.936,0.83)">c</text>
<text font-family="Liberation Serif, serif" font-size="20" fill="#000" stroke="#000" stroke-width="0.35" transform="translate(518.26,36.3) scale(1.019,0.99)">2</text>
<text font-family="Liberation Serif, serif" font-size="40" font-style="italic" fill="#000" stroke="#000" stroke-width="0.35" transform="translate(409.92,833.7) scale(0.996,0.983)">E</text>
<text font-family="Liberation Serif, serif" font-size="28" fill="#000" stroke="#000" stroke-width="0.35" transform="translate(434.2,845.05) scale(0.907,1.029)">b</text>
<text font-family="Liberation Serif, serif" font-size="40" fill="#000" stroke="#000" stroke-width="0.35" transform="translate(58.63,262.02) rotate(-90) scale(0.898,0.922)">(</text>
<text font-family="Liberation Serif, serif" font-size="40" fill="#000" stroke="#000" stroke-width="0.35" transform="translate(59.7,250.31) rotate(-90) scale(1.046,0.979)">Δ</text>
<text font-family="Liberation Serif, serif" font-size="40" font-style="italic" fill="#000" stroke="#000" stroke-width="0.35" transform="translate(59.7,223.18) rotate(-90) scale(0.828,0.917)">x</text>
<text font-family="Liberation Serif, serif" font-size="40" fill="#000" stroke="#000" stroke-width="0.35" transform="translate(58.63,207.24) rotate(-90) scale(0.913,0.922)">)</text>
<text font-family="Liberation Serif, serif" font-size="28" fill="#000" stroke="#000" stroke-width="0.35" transform="translate(44.2,194.3) rotate(-90) scale(0.914,1.026)">2</text>
<text font-family="Liberation Serif, serif" font-size="40" fill="#000" stroke="#000" stroke-width="0.35" transform="translate(70.4,634.52) rotate(-90) scale(0.973,0.971)">Δ</text>
<text font-family="Liberation Serif, serif" font-size="40" font-style="italic" fill="#000" stroke="#000" stroke-width="0.35" transform="translate(70.98,609.83) rotate(-90) scale(1.1076300000000001,0.991) skewX(-11)">θ</text>
<text font-family="Liberation Serif, serif" font-size="40" fill="#808080" stroke="#808080" stroke-width="0.35" transform="translate(796.6,597.98) rotate(90) scale(0.973,0.99)">Δ</text>
<text font-family="Liberation Serif, serif" font-size="40" font-style="italic" fill="#808080" stroke="#808080" stroke-width="0.35" transform="translate(796.2,622.44) rotate(90) scale(0.9557,0.929) skewX(-9)">n</text>
</svg></body></html>
